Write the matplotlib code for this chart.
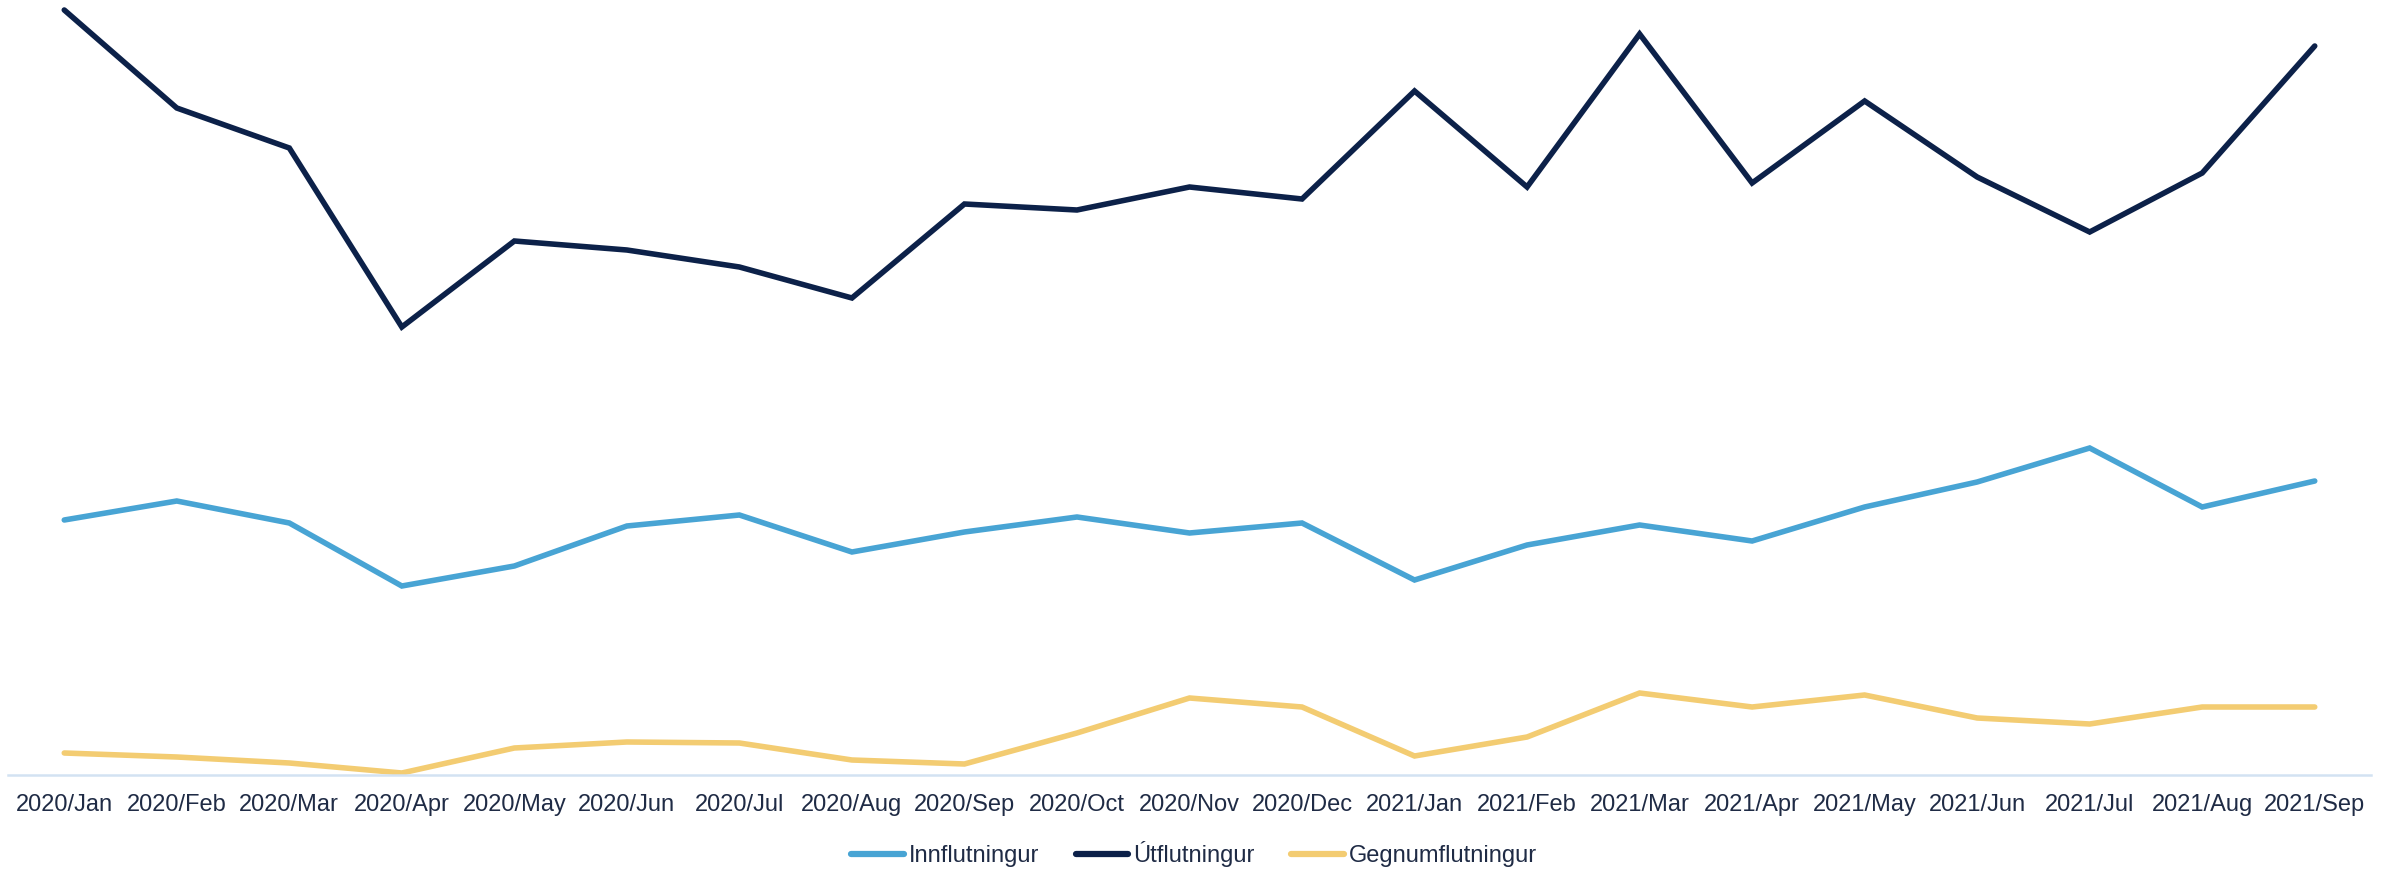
import matplotlib
matplotlib.use("Agg")
import matplotlib.pyplot as plt

months = ["2020/Jan", "2020/Feb", "2020/Mar", "2020/Apr", "2020/May", "2020/Jun",
          "2020/Jul", "2020/Aug", "2020/Sep", "2020/Oct", "2020/Nov", "2020/Dec",
          "2021/Jan", "2021/Feb", "2021/Mar", "2021/Apr", "2021/May", "2021/Jun",
          "2021/Jul", "2021/Aug", "2021/Sep"]

innflutningur = [255, 274, 252, 189, 209, 249, 260, 223, 243, 258, 242, 252,
                 195, 230, 250, 234, 268, 293, 327, 268, 294]
utflutningur = [765, 667, 627, 448, 534, 525, 508, 477, 571, 565, 588, 576,
                684, 588, 741, 592, 674, 598, 543, 602, 729]
gegnumflutningur = [22, 18, 12, 2, 27, 33, 32, 15, 11, 42, 77, 68,
                    19, 38, 82, 68, 80, 57, 51, 68, 68]

series_names = ["Innflutningur", "Útflutningur", "Gegnumflutningur"]
colors = ["#48A4D4", "#0C2149", "#F3CC72"]

plt.rcParams["font.family"] = ["Liberation Sans", "DejaVu Sans"]

fig = plt.figure(figsize=(23.97, 8.69), dpi=100)
ax = fig.add_axes([8 / 2397, (869 - 775) / 869, (2371 - 8) / 2397, 775 / 869])

x = list(range(len(months)))
for vals, name, col in zip([innflutningur, utflutningur, gegnumflutningur], series_names, colors):
    ax.plot(x, vals, color=col, lw=4, label=name, solid_capstyle="round",
            solid_joinstyle="miter", clip_on=False)

ax.set_xlim(-0.5, len(months) - 0.5)
ax.set_ylim(0, 775)
for s in ["top", "right", "left"]:
    ax.spines[s].set_visible(False)
ax.spines["bottom"].set_color("#D3E2F2")
ax.spines["bottom"].set_linewidth(1.8)
ax.set_yticks([])
ax.set_xticks(x)
ax.set_xticklabels(months, fontsize=17, color="#1F2B45")
ax.tick_params(axis="x", length=0, pad=14)

leg = fig.legend(loc="center", bbox_to_anchor=(1194 / 2397, 0.0173), ncol=3,
                 frameon=False, fontsize=17, handlelength=2.24, handletextpad=0.21,
                 columnspacing=1.53)
for t in leg.get_texts():
    t.set_color("#1F2B45")
for h in leg.get_lines():
    h.set_linewidth(4.5)
    h.set_solid_capstyle("round")

fig.savefig("out.png", dpi=100, facecolor="white")
